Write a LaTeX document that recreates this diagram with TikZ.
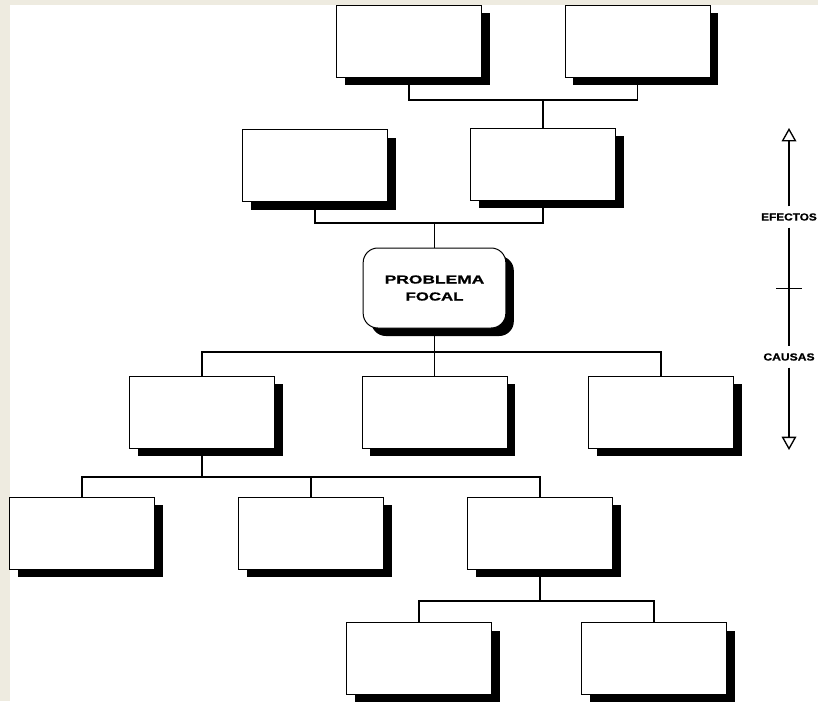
\documentclass[tikz,border=0pt]{standalone}
\usepackage{fontspec}
\usepackage{graphicx}
\usepackage{xcolor}
\usepackage{tikz}
\usetikzlibrary{arrows.meta, shadows}
\newfontfamily\rotulo{Liberation Sans}[FakeBold=0.6]
\definecolor{fondo}{HTML}{EEEBE0}

\begin{document}
\begin{tikzpicture}[x=0.75pt, y=-0.75pt, >=Stealth,
    caja/.style={draw, fill=white, line width=0.75pt, minimum width=108.75pt,
        minimum height=54pt, inner sep=0pt,
        drop shadow={shadow xshift=6pt, shadow yshift=-6pt, fill=black, opacity=1}},
    focal/.style={caja, rounded corners=11pt, minimum width=107pt, minimum height=60pt,
        align=center, font=\rotulo\bfseries\fontsize{8.7}{12.75}\selectfont},
    enlace/.style={line width=0.9pt},
    eje/.style={line width=1.5pt},
    etiqueta/.style={inner xsep=0pt, inner ysep=5pt, font=\rotulo\bfseries\fontsize{7.7}{9}\selectfont}]
    \useasboundingbox (0,0) rectangle (818,701);
    \fill[fondo] (0,0) rectangle (818,701);
    \fill[white] (10,5) rectangle (818,701);

    % efectos
    \node[caja] (ef1) at (409,41) {};
    \node[caja] (ef2) at (637.5,41) {};
    \node[caja] (ef3) at (315,165.5) {};
    \node[caja] (ef4) at (543,164) {};
    % problema
    \node[focal] (pf) at (434.5,288) {\scalebox{1.5}[1]{PROBLEMA}\\\scalebox{1.45}[1]{FOCAL}};
    % causas
    \node[caja] (ca1) at (202,412) {};
    \node[caja] (ca2) at (434.5,412) {};
    \node[caja] (ca3) at (661,412) {};
    \node[caja] (ca4) at (82,533) {};
    \node[caja] (ca5) at (311,533) {};
    \node[caja] (ca6) at (540,533) {};
    \node[caja] (ca7) at (419,658.5) {};
    \node[caja] (ca8) at (654,658.5) {};

    \coordinate (bus1) at (ef4.north |- 0,100);
    \coordinate (bus2) at (pf.north |- 0,223);
    \coordinate (bus3) at (pf.south |- 0,352);
    \coordinate (bus4) at (ca1.south |- 0,477);
    \coordinate (bus5) at (ca6.south |- 0,601);
    \draw[enlace] (ef1.south) |- (bus1) -| (ef2.south);
    \draw[enlace] (bus1) -- (ef4.north);
    \draw[enlace] (ef3.south) |- (bus2) -| (ef4.south);
    \draw[enlace] (bus2) -- (pf.north);
    \draw[enlace] (pf.south) -- (bus3);
    \draw[enlace] (ca1.north) |- (bus3) -| (ca3.north);
    \draw[enlace] (bus3) -- (ca2.north);
    \draw[enlace] (ca1.south) -- (bus4);
    \draw[enlace] (ca4.north) |- (bus4) -| (ca6.north);
    \draw[enlace] (bus4 -| ca5.north) -- (ca5.north);
    \draw[enlace] (ca6.south) -- (bus5);
    \draw[enlace] (ca7.north) |- (bus5) -| (ca8.north);

    % eje efectos / causas
    \node[etiqueta] (efectos) at (789,217) {\scalebox{1.15}[1]{EFECTOS}};
    \node[etiqueta] (causas) at (789,357) {\scalebox{1.18}[1]{CAUSAS}};
    \coordinate (tope) at (789,128);
    \coordinate (fondo) at (789,450);
    \coordinate (marca) at (789,288);
    \draw[eje, -{Triangle[open, length=10pt, width=11pt, line width=1pt]}] (efectos.north) -- (tope);
    \draw[eje, -{Triangle[open, length=10pt, width=11pt, line width=1pt]}] (causas.south) -- (fondo);
    \draw[eje] (efectos.south) -- (causas.north);
    \draw[line width=0.75pt] ([xshift=-9.75pt]marca) -- ([xshift=9.75pt]marca);
\end{tikzpicture}
\end{document}
